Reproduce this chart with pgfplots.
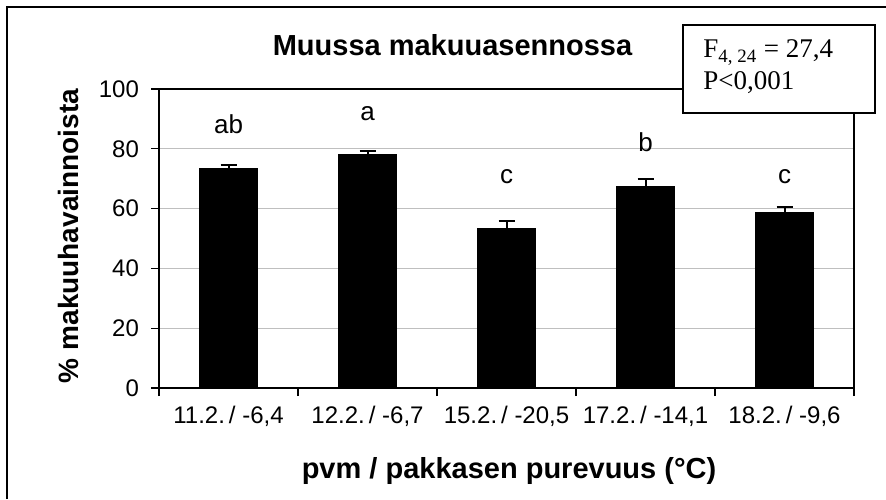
\documentclass[border=0pt]{standalone}
\usepackage{fontspec}
\setmainfont{Liberation Sans}
\newfontfamily\seriffont{Liberation Serif}
\usepackage{pgfplots}
\pgfplotsset{compat=1.18}
\begin{document}
\begin{tikzpicture}
\useasboundingbox (0,0) rectangle (443pt,249.5pt);
\fill[white] (0,0) rectangle (443pt,249.5pt);
\begin{axis}[
  at={(79.5pt,55.5pt)}, anchor=south west,
  scale only axis, width=347.5pt, height=149.5pt,
  xmin=-0.5, xmax=4.5, ymin=0, ymax=100,
  enlargelimits=false,
  ytick={0,20,40,60,80,100},
  xtick={-0.5,0.5,1.5,2.5,3.5,4.5},
  xticklabels={},
  extra x ticks={0,1,2,3,4},
  extra x tick labels={{11.2.\,/ -6,4},{12.2.\,/ -6,7},{15.2.\,/ -20,5},{17.2.\,/ -14,1},{18.2.\,/ -9,6}},
  extra x tick style={major tick length=0pt, tick style={draw=none}, xticklabel style={yshift=-5.5pt}},
  tick align=outside, tick pos=left, major tick length=4pt,
  tick style={black, line width=0.6pt},
  ymajorgrids, major grid style={draw=black!25, line width=0.5pt},
  axis line style={line width=1pt},
  /pgf/number format/assume math mode=true,
  tick label style={font=\fontsize{12}{14}\selectfont},
  yticklabel style={xshift=-2.5pt},
  ybar, bar width=29pt,
  clip=false,
]
\addplot[fill=black, draw=black, line width=0.5pt,
  error bars/.cd, y dir=plus, y explicit,
  error bar style={line width=1pt, black},
  error mark options={rotate=90, mark size=4pt, line width=1pt, black}]
  coordinates {
  (0,73.3) +- (0,1.3)
  (1,78.0) +- (0,1.3)
  (2,53.3) +- (0,2.6)
  (3,67.3) +- (0,2.6)
  (4,58.6) +- (0,1.9)
  };
\node[anchor=base, font=\fontsize{13}{15}\selectfont] at (axis cs:0,85.2) {ab};
\node[anchor=base, font=\fontsize{13}{15}\selectfont] at (axis cs:1,89.6) {a};
\node[anchor=base, font=\fontsize{13}{15}\selectfont] at (axis cs:2,68.4) {c};
\node[anchor=base, font=\fontsize{13}{15}\selectfont] at (axis cs:3,79.0) {b};
\node[anchor=base, font=\fontsize{13}{15}\selectfont] at (axis cs:4,68.4) {c};
\end{axis}
% outer frame (left and top edges)
\draw[line width=1pt, black] (3.5pt,0) -- (3.5pt,246pt) -- (443pt,246pt);
% title
\node[anchor=base, font=\fontsize{14.5}{16}\selectfont\bfseries, inner sep=0pt] at (226.25pt,222pt) {Muussa makuuasennossa};
% x label
\node[anchor=base, font=\fontsize{14.5}{16}\selectfont\bfseries, inner sep=0pt] at (254.5pt,10.5pt) {pvm / pakkasen purevuus (°C)};
% y label
\node[anchor=base, rotate=90, font=\fontsize{14}{16}\selectfont\bfseries, inner sep=0pt] at (39pt,131.5pt) {\% makuuhavainnoista};
% stats box
\draw[line width=0.8pt, black, fill=white] (341.5pt,237pt) rectangle (437.5pt,193pt);
\node[anchor=base west, inner sep=0pt, font=\seriffont\fontsize{13.5}{15}\selectfont] at (351.5pt,220.5pt) {F\textsubscript{4, 24} = 27,4};
\node[anchor=base west, inner sep=0pt, font=\seriffont\fontsize{13.5}{15}\selectfont] at (351.5pt,204.5pt) {P<0,001};
\end{tikzpicture}
\end{document}
